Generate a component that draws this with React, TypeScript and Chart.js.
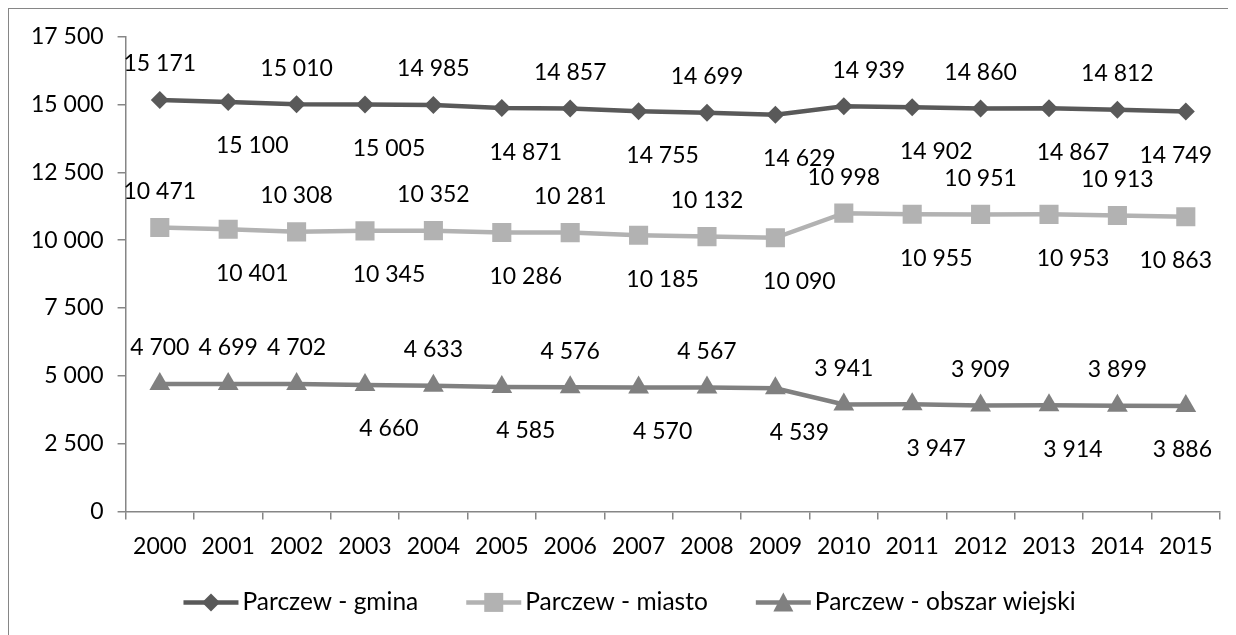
import React, { useEffect, useRef } from 'react';
import { Chart, registerables } from 'chart.js';

Chart.register(...registerables);

const years = ['2000', '2001', '2002', '2003', '2004', '2005', '2006', '2007', '2008', '2009', '2010', '2011', '2012', '2013', '2014', '2015'];
const gmina = [15171, 15100, 15010, 15005, 14985, 14871, 14857, 14755, 14699, 14629, 14939, 14902, 14860, 14867, 14812, 14749];
const miasto = [10471, 10401, 10308, 10345, 10352, 10286, 10281, 10185, 10132, 10090, 10998, 10955, 10951, 10953, 10913, 10863];
const obszar = [4700, 4699, 4702, 4660, 4633, 4585, 4576, 4570, 4567, 4539, 3941, 3947, 3909, 3914, 3899, 3886];
const seriesNames = ['Parczew - gmina', 'Parczew - miasto', 'Parczew - obszar wiejski'];
const yMin = 0;
const yMax = 17500;
const yStep = 2500;

// label placement: a = above, b = below (shifted right), r = above shifted right
const placeGmina = ['a', 'b', 'a', 'b', 'a', 'b', 'a', 'b', 'a', 'b', 'r', 'b', 'a', 'b', 'a', 'b'];
const placeMiasto = ['a', 'b', 'a', 'b', 'a', 'b', 'a', 'b', 'a', 'b', 'a', 'b', 'a', 'b', 'a', 'b'];
const placeObszar = ['a', 'a', 'a', 'b', 'a', 'b', 'a', 'b', 'a', 'b', 'a', 'b', 'a', 'b', 'a', 'b'];
const placements = [placeGmina, placeMiasto, placeObszar];

const FONT = 'Lato, "Open Sans", sans-serif';
const FS = 23;
const LEGEND_FS = 24.5;
const AXIS = '#868686';
const colors = ['#595959', '#B2B2B2', '#808080'];
const styles = ['rectRot', 'rect', 'triangle'];

const fmt = (n: number) => String(n).replace(/\B(?=(\d{3})+(?!\d))/g, ' ');

function drawMarker(ctx: CanvasRenderingContext2D, style: string, x: number, y: number, color: string) {
  ctx.save();
  ctx.fillStyle = color;
  ctx.beginPath();
  if (style === 'rectRot') {
    ctx.moveTo(x - 9, y);
    ctx.lineTo(x, y - 9);
    ctx.lineTo(x + 9, y);
    ctx.lineTo(x, y + 9);
  } else if (style === 'rect') {
    ctx.rect(x - 9.5, y - 9.5, 19, 19);
  } else {
    ctx.moveTo(x, y - 10);
    ctx.lineTo(x + 10, y + 9);
    ctx.lineTo(x - 10, y + 9);
  }
  ctx.closePath();
  ctx.fill();
  ctx.restore();
}

const dataLabelPlugin = {
  id: 'dataLabels',
  afterDatasetsDraw(chart: any) {
    const ctx = chart.ctx as CanvasRenderingContext2D;
    ctx.save();
    ctx.font = `${FS}px ${FONT}`;
    ctx.fillStyle = '#000';
    ctx.textAlign = 'center';
    ctx.textBaseline = 'middle';
    chart.data.datasets.forEach((ds: any, i: number) => {
      const meta = chart.getDatasetMeta(i);
      const place = placements[i];
      meta.data.forEach((pt: any, j: number) => {
        const p = place[j];
        const dx = p === 'b' ? 24 : p === 'r' ? 25 : 0;
        const dy = p === 'b' ? 44 : -36;
        const text = fmt(ds.data[j]);
        const w = ctx.measureText(text).width;
        let x = pt.x + dx;
        const maxX = chart.chartArea.right - 8 - w / 2;
        if (x > maxX) x = maxX;
        ctx.fillText(text, x, pt.y + dy);
      });
    });
    ctx.restore();
  },
};

const legendPlugin = {
  id: 'customLegend',
  afterDraw(chart: any) {
    const ctx = chart.ctx as CanvasRenderingContext2D;
    ctx.save();
    ctx.font = `${LEGEND_FS}px ${FONT}`;
    const lineLen = 55;
    const gap = 4;
    const spacing = 48;
    const items = chart.data.datasets.map((ds: any) => ({
      label: ds.label as string,
      color: ds.borderColor as string,
      style: ds.pointStyle as string,
      w: ctx.measureText(ds.label).width,
    }));
    const total = items.reduce((s: number, it: any) => s + lineLen + gap + it.w, 0) + spacing * (items.length - 1);
    let x = chart.width / 2 - total / 2 + 7;
    const y = chart.chartArea.bottom + 91;
    items.forEach((it: any) => {
      ctx.strokeStyle = it.color;
      ctx.lineWidth = 4.5;
      ctx.beginPath();
      ctx.moveTo(x, y);
      ctx.lineTo(x + lineLen, y);
      ctx.stroke();
      drawMarker(ctx, it.style, x + lineLen / 2, y, it.color);
      ctx.fillStyle = '#000';
      ctx.textAlign = 'left';
      ctx.textBaseline = 'middle';
      ctx.fillText(it.label, x + lineLen + gap, y);
      x += lineLen + gap + it.w + spacing;
    });
    ctx.restore();
  },
};

export default function App() {
  const ref = useRef<HTMLCanvasElement | null>(null);

  useEffect(() => {
    const prevB = document.body.style.overflow;
    const prevH = document.documentElement.style.overflow;
    document.body.style.overflow = 'hidden';
    document.documentElement.style.overflow = 'hidden';
    if (!ref.current) return;
    const values = [gmina, miasto, obszar];
    const chart = new Chart(ref.current, {
      type: 'line',
      data: {
        labels: years,
        datasets: values.map((v, i) => ({
          label: seriesNames[i],
          data: v,
          borderColor: colors[i],
          backgroundColor: colors[i],
          borderWidth: 4.5,
          pointStyle: styles[i] as any,
          pointRadius: i === 0 ? 9 : i === 1 ? 13.5 : 12,
          pointBorderWidth: 0,
          pointBackgroundColor: colors[i],
          pointBorderColor: colors[i],
          tension: 0,
          fill: false,
        })),
      },
      options: {
        animation: false,
        responsive: true,
        maintainAspectRatio: false,
        layout: { padding: { left: 8, top: 18, right: 16, bottom: 62 } },
        plugins: {
          legend: { display: false },
          tooltip: { enabled: false },
        },
        scales: {
          x: {
            offset: true,
            ticks: {
              font: { family: FONT, size: FS },
              color: '#000',
              padding: 13,
              autoSkip: false,
              maxRotation: 0,
            },
            grid: {
              offset: true,
              drawOnChartArea: false,
              tickLength: 8,
              color: AXIS,
              lineWidth: 1.5,
            },
            border: { display: true, color: AXIS, width: 1.5 },
          },
          y: {
            min: yMin,
            max: yMax,
            ticks: {
              stepSize: yStep,
              font: { family: FONT, size: FS },
              color: '#000',
              padding: 14,
              callback: (v: any) => fmt(Number(v)),
            },
            grid: {
              drawOnChartArea: false,
              tickLength: 8,
              color: AXIS,
              lineWidth: 1.5,
            },
            border: { display: true, color: AXIS, width: 1.5 },
          },
        },
      },
      plugins: [dataLabelPlugin, legendPlugin],
    });
    return () => {
      chart.destroy();
      document.body.style.overflow = prevB;
      document.documentElement.style.overflow = prevH;
    };
  }, []);

  return (
    <div
      style={{
        width: 1228,
        height: 627,
        boxSizing: 'border-box',
        borderTop: `1px solid ${AXIS}`,
        borderLeft: `1px solid ${AXIS}`,
        background: '#fff',
      }}
    >
      <div style={{ position: 'relative', width: 1227, height: 626 }}>
        <canvas ref={ref} />
      </div>
    </div>
  );
}
